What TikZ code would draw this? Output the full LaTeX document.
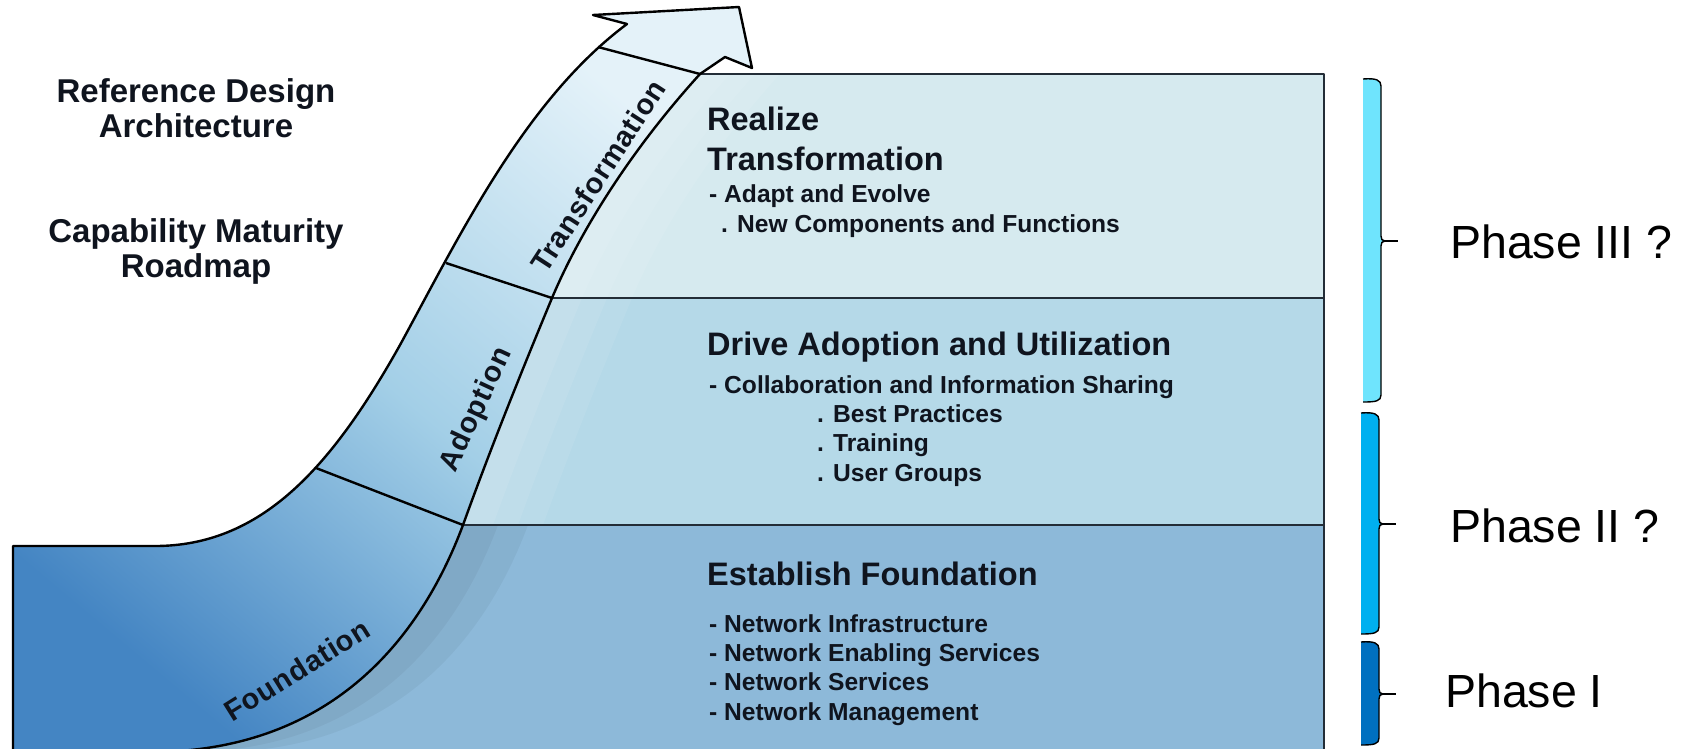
\documentclass[tikz,border=0pt]{standalone}
\usepackage{fontspec}
\setmainfont{Liberation Sans}
\usepackage{tikz}
\usetikzlibrary{calc}
\usetikzlibrary{positioning}
\definecolor{rowtop}{RGB}{214,234,239}
\definecolor{rowmid}{RGB}{181,217,232}
\definecolor{rowbot}{RGB}{141,185,217}
\definecolor{arrowpale}{RGB}{228,242,249}
\definecolor{arrowmid}{RGB}{163,207,231}
\definecolor{arrowdark}{RGB}{68,133,195}
\definecolor{phaseone}{RGB}{0,112,192}
\definecolor{phasetwo}{RGB}{0,176,240}
\definecolor{phasethree}{RGB}{111,228,253}
\definecolor{edgegray}{RGB}{35,45,55}
\definecolor{inknavy}{RGB}{15,20,30}

\tikzset{
	outline/.style={draw=black,line width=2.4pt},
	boxline/.style={draw=edgegray,line width=2.4pt},
	phasebar/.style={draw=black,line width=1.4pt},
	title/.style={font=\bfseries\fontsize{33}{34.5}\selectfont,align=center,anchor=base,inner sep=0pt,text=inknavy},
	heading/.style={font=\bfseries\fontsize{32.5}{40}\selectfont,align=left,anchor=base west,inner sep=0pt,text=inknavy},
	bodytext/.style={font=\bfseries\fontsize{24.6}{29.3}\selectfont,align=left,anchor=base west,inner sep=0pt,text=inknavy},
	steplabel/.style={font=\bfseries\fontsize{29}{30}\selectfont\addfontfeature{LetterSpace=3},inner sep=0pt,text=inknavy},
	phaselabel/.style={font=\fontsize{46.5}{50}\selectfont,anchor=base west,inner sep=0pt}
}

\begin{document}
\begin{tikzpicture}[x=1pt,y=-1pt,line join=round]
	\useasboundingbox (0,0) rectangle (1681,748);
	
	\coordinate (Corner) at (700,74);
	\coordinate (Out1) at (316,468);
	\coordinate (In1) at (463,525);
	\coordinate (Out2) at (446,263);
	\coordinate (In2) at (552,298);
	\coordinate (Out3) at (598,47);
	\coordinate (BoxNE) at (1324,74);
	\coordinate (BoxSE) at (1324,752);
	
	% rows of the box, cut along the inner edge of the arrow
	\begin{scope}
		\clip (Corner) .. controls (640,140) and (585,220) .. (In2) .. controls (520,375) and (490,450) .. (In1) .. controls (420,640) and (330,752) .. (150,752) -- (BoxSE) -- (BoxNE) -- cycle;
		\fill[rowtop] (0,74) rectangle (1324,298);
		\fill[rowmid] (0,298) rectangle (1324,525);
		\fill[rowbot] (0,525) rectangle (1324,752);
		\foreach \d in {30,55,80}
			\fill[white,opacity=0.08] (Corner) .. controls (640,140) and (585,220) .. (In2) .. controls (520,375) and (490,450) .. (In1) -- ($(In1)+(\d,0)$) .. controls ($(490,450)+(\d,0)$) and ($(520,375)+(\d,0)$) .. ($(In2)+(\d,0)$) .. controls ($(585,220)+(\d,0)$) and ($(640,140)+(\d,0)$) .. ($(Corner)+(\d,0)$) -- cycle;
		\foreach \d in {35,65}
			\fill[black,opacity=0.045] (In1) .. controls (420,640) and (330,752) .. (150,752) -- ($(150,752)+(\d,0)$) .. controls ($(330,752)+(\d,0)$) and ($(420,640)+(\d,0)$) .. ($(In1)+(\d,0)$) -- cycle;
	\end{scope}
	\draw[boxline] (Corner) -- (BoxNE) -- (BoxSE);
	\draw[boxline] (In2) -- (1324,298);
	\draw[boxline] (In1) -- (1324,525);
	
	% the arrow
	\shade[top color=arrowpale,bottom color=arrowdark,middle color=arrowmid,shading angle=-40]
		(13,752) -- (13,546) -- (155,546) .. controls (260,546) and (330,470) .. (400,345) .. controls (460,235) and (525,100) .. (627,24) -- (593,15) -- (739,7) -- (752,68) -- (725,57) -- (Corner) .. controls (640,140) and (585,220) .. (In2) .. controls (520,375) and (490,450) .. (In1) .. controls (420,640) and (330,752) .. (150,752) -- cycle;
	\draw[outline] (13,752) -- (13,546) -- (155,546) .. controls (260,546) and (330,470) .. (400,345) .. controls (460,235) and (525,100) .. (627,24) -- (593,15) -- (739,7) -- (752,68) -- (725,57) -- (Corner) .. controls (640,140) and (585,220) .. (In2) .. controls (520,375) and (490,450) .. (In1) .. controls (420,640) and (330,752) .. (150,752);
	\draw[outline] (Out1) -- (In1);
	\draw[outline] (Out2) -- (In2);
	\draw[outline] (Out3) -- (Corner);
	
	\node[steplabel,rotate=32] (FoundLbl) at (297,670) {Foundation};
	\node[steplabel,rotate=65] (AdoptLbl) at (477,410) {Adoption};
	\node[steplabel,rotate=57] (TransLbl) at (598,176) {Transformation};
	
	\node[title] (RefTitle) at (196,137) {Reference Design\\Architecture};
	\node[title] (CapTitle) at (196,277) {Capability Maturity\\Roadmap};
	
	\node[heading] (RealizeHead) at (707,170) {Realize\\Transformation};
	\node[bodytext] (RealizeBody) at (709,232) {- Adapt and Evolve\\\hspace*{12pt}. New Components and Functions};
	\node[heading] (DriveHead) at (707,355) {Drive Adoption and Utilization};
	\node[bodytext] (DriveBody) at (709,481) {- Collaboration and Information Sharing\\\hspace*{108pt}. Best Practices\\\hspace*{108pt}. Training\\\hspace*{108pt}. User Groups};
	\node[heading] (EstHead) at (707,585) {Establish Foundation};
	\node[bodytext] (EstBody) at (709,720) {- Network Infrastructure\\- Network Enabling Services\\- Network Services\\- Network Management};
	
	% phase brackets
	\coordinate (P3a) at (1385,241);
	\coordinate (P3b) at (1398,241);
	\coordinate (P2a) at (1383,524);
	\coordinate (P2b) at (1396,524);
	\coordinate (P1a) at (1383,694);
	\coordinate (P1b) at (1396,694);
	\filldraw[phasebar,fill=phasethree] (1363,79) .. controls (1376,78) and (1381,80) .. (1381,86) -- (1381,236) .. controls (1381,239) and (1382,241) .. (P3a) .. controls (1382,241) and (1381,243) .. (1381,246) -- (1381,395) .. controls (1381,401) and (1376,402) .. (1363,402);
	\filldraw[phasebar,fill=phasetwo] (1361,413) .. controls (1374,412) and (1379,414) .. (1379,420) -- (1379,519) .. controls (1379,522) and (1380,524) .. (P2a) .. controls (1380,524) and (1379,526) .. (1379,529) -- (1379,627) .. controls (1379,633) and (1374,634) .. (1361,634);
	\filldraw[phasebar,fill=phaseone] (1361,642) .. controls (1374,641) and (1379,643) .. (1379,649) -- (1379,689) .. controls (1379,692) and (1380,694) .. (P1a) .. controls (1380,694) and (1379,696) .. (1379,699) -- (1379,738) .. controls (1379,744) and (1374,745) .. (1361,745);
	\draw[phasebar] (P3a) -- (P3b);
	\draw[phasebar] (P2a) -- (P2b);
	\draw[phasebar] (P1a) -- (P1b);
	
	\node[phaselabel] (PhaseIII) at (1450,258) {Phase III ?};
	\node[phaselabel] (PhaseII) at (1450,542) {Phase II ?};
	\node[phaselabel] (PhaseI) at (1445,707) {Phase I};
\end{tikzpicture}
\end{document}
